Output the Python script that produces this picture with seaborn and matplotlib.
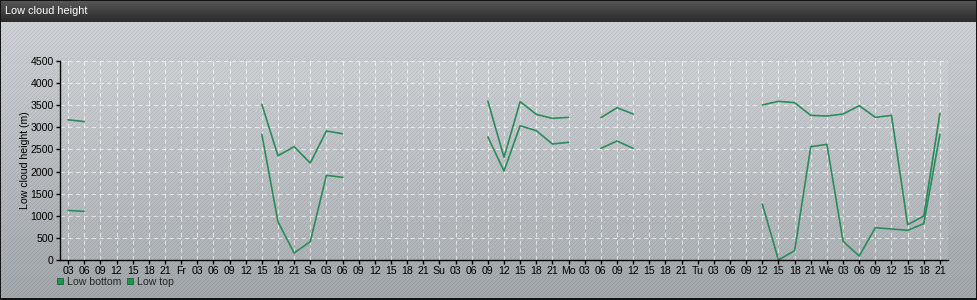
import numpy as np
import pandas as pd
import matplotlib
matplotlib.use("Agg")
import matplotlib.pyplot as plt
from matplotlib.lines import Line2D
import seaborn as sns

nan = np.nan

tick_labels = [
    "03", "06", "09", "12", "15", "18", "21",
    "Fr", "03", "06", "09", "12", "15", "18", "21",
    "Sa", "03", "06", "09", "12", "15", "18", "21",
    "Su", "03", "06", "09", "12", "15", "18", "21",
    "Mo", "03", "06", "09", "12", "15", "18", "21",
    "Tu", "03", "06", "09", "12", "15", "18", "21",
    "We", "03", "06", "09", "12", "15", "18", "21",
]

low_top = [3170, 3130] + [nan] * 10 + \
    [3520, 2358, 2562, 2193, 2917, 2856] + [nan] * 8 + \
    [3595, 2321, 3580, 3294, 3203, 3226] + [nan] + \
    [3218, 3444, 3301] + [nan] * 7 + \
    [3505, 3588, 3558, 3271, 3256, 3301, 3490, 3226, 3271, 799, 995, 3316]

low_bottom = [1120, 1100] + [nan] * 10 + \
    [2841, 866, 158, 414, 1915, 1870] + [nan] * 8 + \
    [2781, 2012, 3037, 2924, 2623, 2661] + [nan] + \
    [2525, 2690, 2525] + [nan] * 7 + \
    [1266, 0, 211, 2562, 2615, 422, 90, 731, 701, 671, 822, 2841]

series_names = ["Low bottom", "Low top"]

# long-format table with a segment id per unbroken run
rows = []
for name, vals in zip(series_names, [low_bottom, low_top]):
    seg = 0
    prev_nan = True
    for i, v in enumerate(vals):
        if np.isnan(v):
            prev_nan = True
            continue
        if prev_nan:
            seg += 1
            prev_nan = False
        rows.append({"x": i, "value": v, "series": name, "seg": f"{name}-{seg}"})
df = pd.DataFrame(rows)

sns.set_theme(style="white")
plt.rcParams["font.family"] = ["Liberation Sans", "DejaVu Sans"]

W, H = 978, 300
fig = plt.figure(figsize=(W / 100, H / 100), dpi=100)

# background: gradient body with fine diagonal stripes, dark title bar
yy, xx = np.mgrid[0:H, 0:W]
t = yy / (H - 1)
top_c = np.array([210, 214, 218], float)
bot_c = np.array([163, 168, 173], float)
img = top_c[None, None, :] * (1 - t[..., None]) + bot_c[None, None, :] * t[..., None]
stripe = ((xx + yy) % 4) == 0
img[stripe] -= 16
bar_h = 22
tb = yy[:bar_h] / (bar_h - 1)
bar_top = np.array([88, 88, 88], float)
bar_bot = np.array([42, 42, 42], float)
img[:bar_h] = bar_top[None, None, :] * (1 - tb[..., None]) + bar_bot[None, None, :] * tb[..., None]
img[:1, :] = 20
img[-2:, :] = 20
img[:, :1] = 20
img[:, -2:] = 20
img = np.clip(img, 0, 255).astype(np.uint8)

bg = fig.add_axes([0, 0, 1, 1], zorder=-10)
bg.imshow(img, aspect="auto", interpolation="nearest")
bg.set_axis_off()

fig.text(5 / W, 1 - 11.5 / H, "Low cloud height", color="white",
         fontsize=7.8, va="center", ha="left")

ax_w = 888
ax = fig.add_axes([60 / W, 40 / H, ax_w / W, 199 / H])
ax.set_facecolor((1, 1, 1, 0.08))

line_color = "#2b8c5c"
sns.lineplot(data=df, x="x", y="value", hue="series", units="seg",
             estimator=None, palette=[line_color, line_color],
             linewidth=1.2, legend=False, ax=ax, sort=True)

ax.set_xlim(-0.5, len(tick_labels) - 0.5)
ax.set_ylim(0, 4500)
ax.set_xticks(range(len(tick_labels)))
ax.set_xticklabels(tick_labels)
ax.set_yticks(range(0, 4501, 500))
ax.set_xlabel("")
ax.set_ylabel("Low cloud height (m)", fontsize=7.6, color="black")
ax.yaxis.label.set_va("center")
ax.yaxis.set_label_coords((25 - 60) / ax_w, 0.5)

ax.tick_params(axis="both", which="major", labelsize=7.6, length=3, width=1,
               color="black", labelcolor="black", pad=1.5,
               bottom=True, left=True)
ax.grid(True, color="white", alpha=0.6, linestyle=(0, (4, 3)), linewidth=0.8)
for s in ["top", "right"]:
    ax.spines[s].set_visible(False)
for s in ["left", "bottom"]:
    ax.spines[s].set_color("black")
    ax.spines[s].set_linewidth(1)

handles = [Line2D([0], [0], marker="s", linestyle="none", markersize=5,
                  markerfacecolor="#1e9650", markeredgecolor="#16663a",
                  markeredgewidth=0.6, label=n) for n in series_names]
fig.legend(handles=handles, loc="upper left", bbox_to_anchor=(56 / W, 1 - 277 / H),
           ncol=2, frameon=False, fontsize=7.6, handlelength=0.8,
           handletextpad=0.2, columnspacing=0.5, borderaxespad=0, borderpad=0)

fig.savefig("out.png", dpi=100)
